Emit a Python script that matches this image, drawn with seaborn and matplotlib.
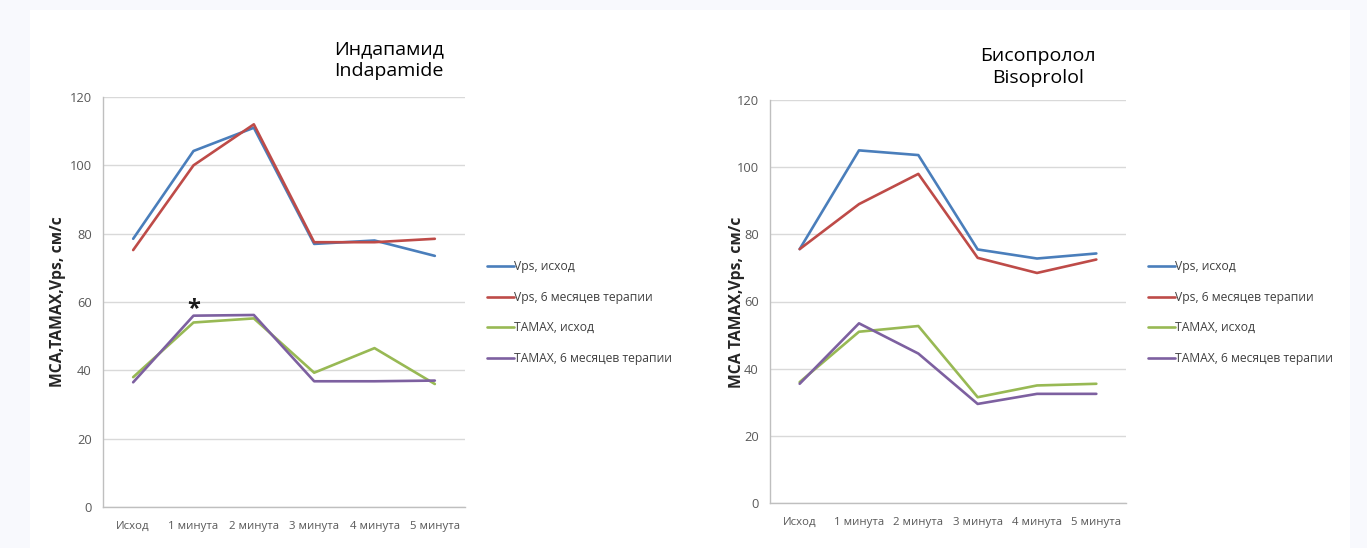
import matplotlib
matplotlib.use("Agg")
import matplotlib.pyplot as plt
import seaborn as sns
import pandas as pd
from matplotlib.patches import Rectangle

categories = ["Исход", "1 минута", "2 минута", "3 минута", "4 минута", "5 минута"]
series_names = ["Vps, исход", "Vps, 6 месяцев терапии", "TAMAX, исход", "TAMAX, 6 месяцев терапии"]

# Indapamide
ind_vps_base = [78.5, 104.2, 111.0, 77.0, 78.0, 73.5]
ind_vps_6m = [75.2, 100.0, 112.0, 77.5, 77.5, 78.5]
ind_tamax_base = [38.0, 54.0, 55.2, 39.3, 46.5, 36.0]
ind_tamax_6m = [36.5, 56.0, 56.2, 36.8, 36.8, 37.0]

# Bisoprolol
bis_vps_base = [75.6, 105.0, 103.6, 75.5, 72.8, 74.3]
bis_vps_6m = [75.6, 89.0, 98.0, 73.0, 68.5, 72.5]
bis_tamax_base = [36.0, 51.0, 52.7, 31.5, 35.0, 35.5]
bis_tamax_6m = [35.5, 53.5, 44.5, 29.5, 32.5, 32.5]

titles = ["Индапамид\nIndapamide", "Бисопролол\nBisoprolol"]
ylabels = ["MCA,TAMAX,Vps, см/с", "MCA TAMAX,Vps, см/с"]
yticks = [0, 20, 40, 60, 80, 100, 120]

colors = ["#4a7ebb", "#be4b48", "#98b954", "#7d60a0"]


def make_df(vals):
    rows = []
    for name, v in zip(series_names, vals):
        for c, y in zip(categories, v):
            rows.append({"cat": c, "val": y, "series": name})
    return pd.DataFrame(rows)


df_ind = make_df([ind_vps_base, ind_vps_6m, ind_tamax_base, ind_tamax_6m])
df_bis = make_df([bis_vps_base, bis_vps_6m, bis_tamax_base, bis_tamax_6m])

sns.set_theme(style="white")
plt.rcParams['font.family'] = ['Open Sans', 'DejaVu Sans']

W, H = 1367, 548
fig = plt.figure(figsize=(W / 100, H / 100), dpi=100, facecolor="#f8f9fd")
bg = Rectangle((30 / W, 0), (1350 - 30) / W, 1 - 10 / H,
               transform=fig.transFigure, facecolor="white",
               edgecolor="none", zorder=-10)
fig.patches.append(bg)


def px_ax(x0, x1, y0, y1):
    return fig.add_axes([x0 / W, 1 - y1 / H, (x1 - x0) / W, (y1 - y0) / H])


ax1 = px_ax(103, 465, 97, 507)
ax2 = px_ax(770, 1126, 100, 503)

for ax, df, title, ylab, legx, tx, ty, ylx in [
    (ax1, df_ind, titles[0], ylabels[0], 487, 389, 60, 58),
    (ax2, df_bis, titles[1], ylabels[1], 1148, 1038, 67, 737),
]:
    ax.set_facecolor("none")
    sns.lineplot(data=df, x="cat", y="val", hue="series", palette=colors,
                 linewidth=1.9, ax=ax, legend=True, zorder=3)
    ax.set_xlim(-0.5, 5.5)
    ax.set_ylim(0, 120)
    ax.set_yticks(yticks)
    ax.set_yticklabels([str(t) for t in yticks])
    ax.grid(axis="y", color="#d9d9d9", linewidth=1.0)
    ax.set_axisbelow(True)
    for s in ["top", "right"]:
        ax.spines[s].set_visible(False)
    for s in ["left", "bottom"]:
        ax.spines[s].set_color("#bfbfbf")
        ax.spines[s].set_linewidth(1.0)
    ax.tick_params(axis="y", length=0, labelsize=9.3, colors="#595959", pad=8)
    ax.tick_params(axis="x", length=0, labelsize=8.2, colors="#595959", pad=10)
    ax.set_xlabel("")
    ax.set_ylabel("")
    fig.text(ylx / W, 1 - 302 / H, ylab, rotation=90, fontsize=11.3,
             fontweight="bold", color="#262626", ha="center", va="center")
    fig.text(tx / W, 1 - ty / H, title, fontsize=14, color="#000000",
             ha="center", va="center", linespacing=1.25)
    h, l = ax.get_legend_handles_labels()
    ax.legend(h, l, loc="center left", bbox_to_anchor=(legx / W, 1 - 312.5 / H),
              bbox_transform=fig.transFigure, frameon=False, fontsize=8.7,
              labelcolor="#404040", handlelength=2.2, handletextpad=0.05,
              labelspacing=1.45, borderpad=0, borderaxespad=0)

ax1.text(1, 58, "*", fontsize=17, fontweight="bold", ha="center", va="center",
         color="#1a1a1a", zorder=5)

fig.savefig("out.png", dpi=100, facecolor=fig.get_facecolor())
